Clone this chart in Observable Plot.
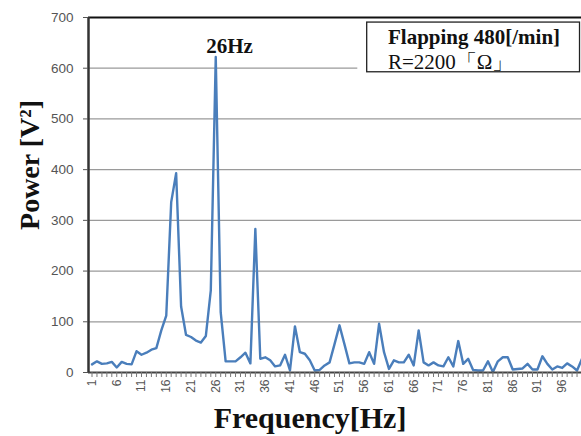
<!DOCTYPE html>
<html>
<head>
<meta charset="utf-8">
<script src="https://cdn.jsdelivr.net/npm/d3@7"></script>
<script src="https://cdn.jsdelivr.net/npm/@observablehq/plot@0.6"></script>
<style>
  html, body { margin: 0; padding: 0; background: #fff; }
  #chart { width: 581px; height: 436px; overflow: hidden; }
</style>
</head>
<body>
<div id="chart"></div>
<script>
// Frequency categories [Hz]
const freq = [
  1,2,3,4,5,6,7,8,9,10,11,12,13,14,15,16,17,18,19,20,
  21,22,23,24,25,26,27,28,29,30,31,32,33,34,35,36,37,38,39,40,
  41,42,43,44,45,46,47,48,49,50,51,52,53,54,55,56,57,58,59,60,
  61,62,63,64,65,66,67,68,69,70,71,72,73,74,75,76,77,78,79,80,
  81,82,83,84,85,86,87,88,89,90,91,92,93,94,95,96,97,98,99,100
];
// Power [V^2]
const power = [
  16,22,17,18,21,10,21,17,16,42,
  35,39,45,48,83,112,336,393,130,74,
  70,63,59,72,162,622,119,22,22,22,
  30,39,18,283,27,30,24,12,14,35,
  4,91,40,37,24,4,5,14,20,56,
  93,56,18,20,20,17,40,17,96,40,
  7,24,20,20,35,14,83,20,14,20,
  14,12,30,12,62,17,27,5,4,4,
  22,1,22,30,30,6,7,8,17,6,
  6,32,17,6,12,9,18,12,4,27
];
const xTickLabels = [1,6,11,16,21,26,31,36,41,46,51,56,61,66,71,76,81,86,91,96];
const yTicks = [0,100,200,300,400,500,600,700];
const gridValues = [100,200,300,400,500,600];
const peakLabel = ["26Hz"];
const boxLines = ["Flapping 480[/min]", "R=2200「Ω」"];

const data = freq.map((f, i) => ({f, p: power[i]}));
const xDomain = [0.29, 99.9];
const serif = "'Liberation Serif', 'Times New Roman', serif";

const chart = Plot.plot({
  width: 581,
  height: 436,
  marginLeft: 88,
  marginRight: 0,
  marginTop: 17,
  marginBottom: 64,
  style: {fontFamily: "'Liberation Sans', Arial, sans-serif", fontSize: "13px", color: "#595959", background: "#fff", overflow: "visible"},
  x: {type: "linear", domain: xDomain},
  y: {domain: [0, 700]},
  marks: [
    Plot.gridY(gridValues, {stroke: "#9a9a9a", strokeOpacity: 1, strokeWidth: 1.2}),
    Plot.ruleY([700], {stroke: "#111", strokeWidth: 2}),
    // annotation box (white backing + border)
    Plot.rect([{x1: 54.7, x2: 101, y1: 592, y2: 693}], {x1: "x1", x2: "x2", y1: "y1", y2: "y2", fill: "#fff"}),
    Plot.rect([{x1: 56.6, x2: 99.6, y1: 592, y2: 690}], {x1: "x1", x2: "x2", y1: "y1", y2: "y2", fill: "#fff", stroke: "#222", strokeWidth: 1.3}),
    Plot.line(data, {x: "f", y: "p", stroke: "#4a7ebb", strokeWidth: 2.4, strokeLinejoin: "round"}),
    Plot.ruleY([0], {stroke: "#444", strokeWidth: 2}),
    Plot.ruleX([xDomain[0]], {stroke: "#333", strokeWidth: 2.5}),
    Plot.axisY({ticks: yTicks, tickSize: 5, tickPadding: 10, label: null, fontSize: 13.5, fill: "#555", stroke: "#555"}),
    Plot.axisX({ticks: freq, tickSize: 5, tickFormat: () => "", label: null, stroke: "#777"}),
    Plot.axisX({ticks: xTickLabels, tickSize: 0, tickPadding: 7, tickRotate: -90, label: null, fontSize: 12, fill: "#555"}),
    Plot.text(peakLabel, {x: 28.8, y: 644, text: d => d, fontFamily: serif, fontWeight: "bold", fontSize: 21, fill: "#111"}),
    Plot.text([boxLines[0]], {x: 60.8, y: 661, text: d => d, textAnchor: "start", fontFamily: serif, fontWeight: "bold", fontSize: 21, fill: "#111"}),
    Plot.text([boxLines[1]], {x: 60.8, y: 612, text: d => d, textAnchor: "start", fontFamily: serif, fontSize: 21, fill: "#111"}),
    Plot.text(["Power [V²]"], {frameAnchor: "left", textAnchor: "middle", lineAnchor: "middle", rotate: -90, dx: -58, dy: -30, text: d => d, fontFamily: serif, fontWeight: "bold", fontSize: 28, fill: "#111"}),
    Plot.text(["Frequency[Hz]"], {frameAnchor: "bottom", textAnchor: "middle", lineAnchor: "middle", dy: 46, dx: -25, text: d => d, fontFamily: serif, fontWeight: "bold", fontSize: 30, fill: "#111"})
  ]
});
document.getElementById("chart").appendChild(chart);
</script>
</body>
</html>
